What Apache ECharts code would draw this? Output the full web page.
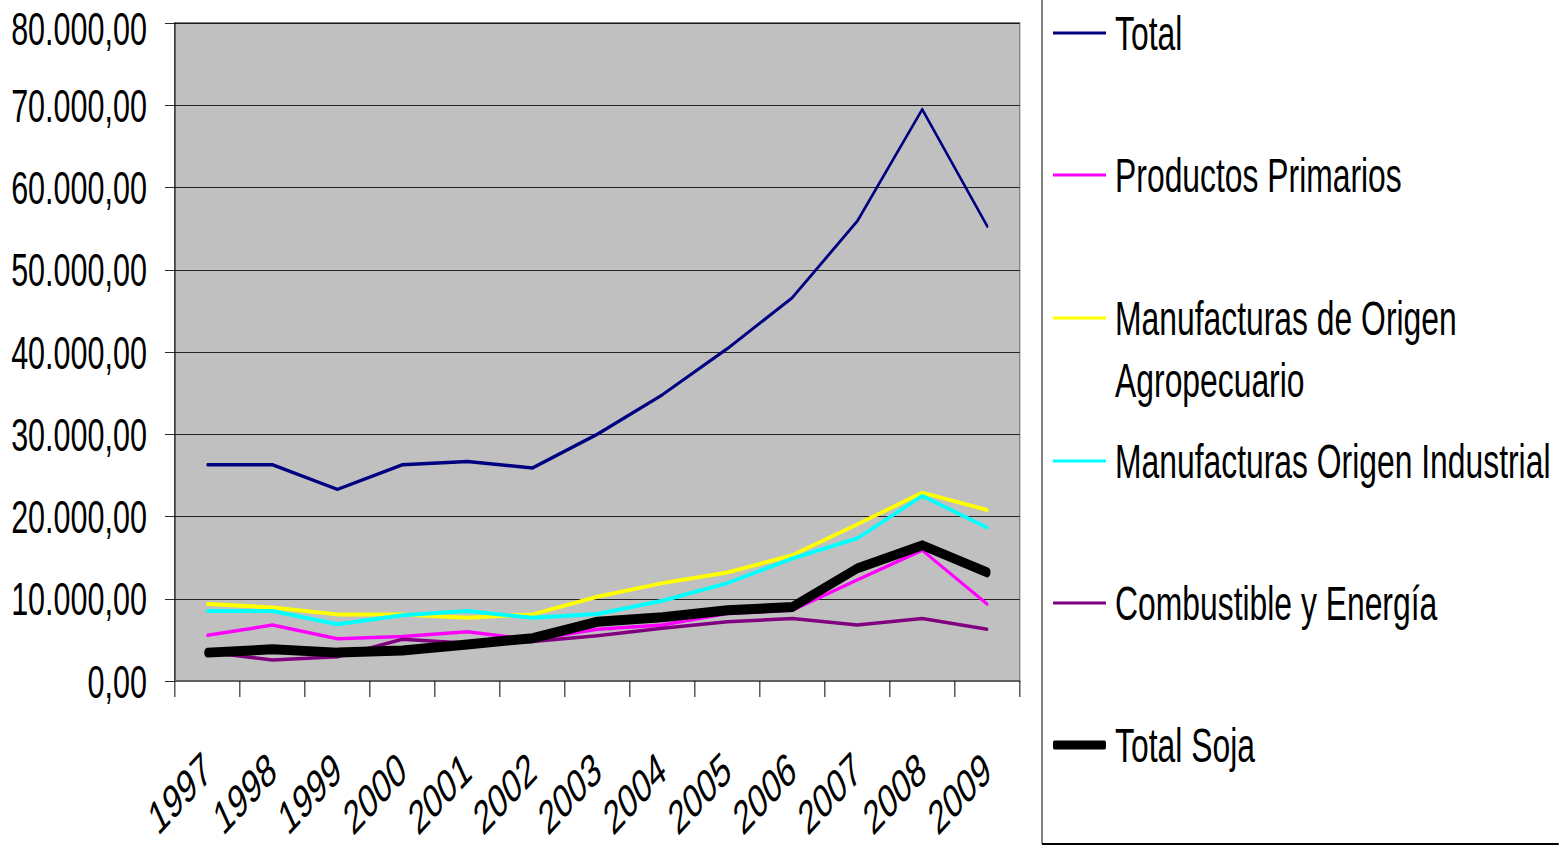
<!DOCTYPE html>
<html>
<head>
<meta charset="utf-8">
<script src="https://cdn.jsdelivr.net/npm/echarts@6/dist/echarts.min.js"></script>
<style>
html,body{margin:0;padding:0;background:#fff;overflow:hidden;}
#wrap{width:1559px;height:846px;overflow:hidden;position:relative;}
#chart{width:2398px;height:846px;transform:scaleX(0.65);transform-origin:0 0;position:absolute;left:0;top:0;}
</style>
</head>
<body>
<div id="wrap"><div id="chart"></div></div>
<script>
var years = ['1997','1998','1999','2000','2001','2002','2003','2004','2005','2006','2007','2008','2009'];
var total = [26300, 26300, 23300, 26300, 26700, 25900, 30000, 34800, 40400, 46600, 55900, 69500, 55300];
var primarios = [5550, 6800, 5150, 5400, 6000, 5000, 6300, 6800, 8200, 8600, 12300, 15900, 9350];
var moa = [9350, 8950, 8100, 8100, 7700, 8100, 10250, 11900, 13200, 15300, 19050, 22900, 20800];
var moi = [8500, 8500, 6900, 8000, 8500, 7700, 8150, 9750, 11900, 14900, 17350, 22500, 18650];
var combustible = [3500, 2550, 2950, 5070, 4600, 4800, 5500, 6400, 7200, 7600, 6800, 7600, 6300];
var soja = [3450, 3850, 3450, 3700, 4450, 5200, 7200, 7750, 8600, 9000, 13700, 16500, 13200];
var seriesNames = ['Total','Productos Primarios','Manufacturas de Origen Agropecuario','Manufacturas Origen Industrial','Combustible y Energía','Total Soja'];
var yTicks = [0, 10000, 20000, 30000, 40000, 50000, 60000, 70000, 80000];

// whole chart is drawn in a wider space and condensed horizontally by SX (to mimic the condensed font)
var SX = 0.65;
function X(px) { return px / SX; }
var FONT = '"Liberation Sans", Arial, sans-serif';

function fmt(v) {
  var s = String(Math.round(v));
  s = s.replace(/\B(?=(\d{3})+(?!\d))/g, '.');
  return s + ',00';
}

var colors = ['#000080', '#FF00FF', '#FFFF00', '#00FFFF', '#800080', '#000000'];
var widths = [3.5, 3.5, 4, 4, 3.5, 10];
var dataSets = [total, primarios, moa, moi, combustible, soja];

var series = seriesNames.map(function (n, i) {
  return {
    name: n,
    type: 'line',
    data: dataSets[i],
    symbol: 'none',
    smooth: false,
    color: colors[i],
    lineStyle: { color: colors[i], width: widths[i], cap: 'round', join: 'round' },
    z: 2 + i
  };
});

var legendTops = [5, 147, 225, 433, 575, 717];
var legends = seriesNames.map(function (n, i) {
  var isMoa = i === 2;
  return {
    data: [n],
    orient: 'vertical',
    left: X(1053),
    top: legendTops[i],
    padding: 0,
    itemWidth: X(53),
    itemHeight: i === 5 ? 9 : 3,
    icon: i === 5 ? 'roundRect' : 'rect',
    selectedMode: false,
    formatter: isMoa ? function () { return '\nManufacturas de Origen\nAgropecuario'; } : '{name}',
    textStyle: {
      color: '#000',
      fontFamily: FONT,
      fontSize: 49,
      lineHeight: isMoa ? 62 : 56,
      padding: [0, 0, 0, 9]
    }
  };
});

var chart = echarts.init(document.getElementById('chart'), null, { renderer: 'svg' });
chart.setOption({
  backgroundColor: '#fff',
  animation: false,
  grid: {
    left: X(175), right: X(1559 - 1020), top: 23, bottom: 165,
    containLabel: false,
    outerBoundsMode: 'none',
    show: true,
    backgroundColor: '#C0C0C0',
    borderColor: '#808080',
    borderWidth: 2
  },
  legend: legends,
  graphic: [
    { type: 'line', shape: { x1: X(1042), y1: 0, x2: X(1042), y2: 844 }, style: { stroke: '#808080', lineWidth: 3 }, z: 10 },
    { type: 'line', shape: { x1: X(1042), y1: 844, x2: X(1559), y2: 844 }, style: { stroke: '#000', lineWidth: 2 }, z: 10 }
  ],
  xAxis: {
    type: 'category',
    data: years,
    boundaryGap: true,
    axisLine: { show: true, lineStyle: { color: '#606060', width: 2 } },
    axisTick: { show: true, length: 16, alignWithLabel: false, lineStyle: { color: '#000', width: 1.5 } },
    axisLabel: {
      interval: 0,
      rotate: 35,
      margin: 82,
      color: '#000',
      fontFamily: FONT,
      fontSize: 47,
      lineHeight: 47
    },
    splitLine: { show: false }
  },
  yAxis: {
    type: 'value',
    min: 0,
    max: 80000,
    interval: 10000,
    axisLine: { show: true, lineStyle: { color: '#000', width: 1.5 } },
    axisTick: { show: true, length: X(10), inside: false, lineStyle: { color: '#000' } },
    axisLabel: {
      margin: X(28),
      color: '#000',
      fontFamily: FONT,
      fontSize: 47,
      lineHeight: 42,
      formatter: function (v) {
        return v === yTicks[yTicks.length - 1] ? '{m|' + fmt(v) + '}' : fmt(v);
      },
      rich: {
        m: { fontFamily: FONT, fontSize: 47, lineHeight: 34, padding: [10, 0, 0, 0], color: '#000' }
      }
    },
    splitLine: { show: true, lineStyle: { color: '#000', width: 1 } }
  },
  series: series
});
</script>
</body>
</html>
